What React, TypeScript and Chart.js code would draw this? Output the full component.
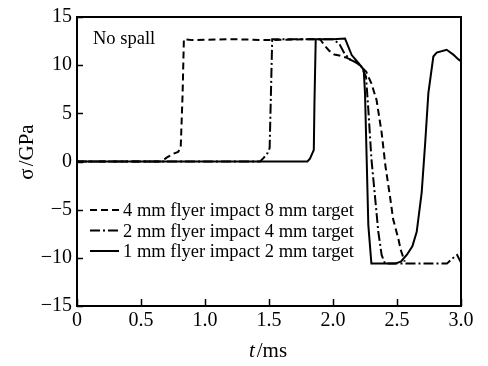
import React, { useEffect, useRef } from 'react';
import { Chart, registerables } from 'chart.js';
Chart.register(...registerables);

// ---- data ----
const SERIES_LABELS = [
  '4 mm flyer impact 8 mm target',
  '2 mm flyer impact 4 mm target',
  '1 mm flyer impact 2 mm target',
];

const tA = [0, 0.66, 0.70, 0.75, 0.79, 0.81, 0.825, 0.835, 0.9, 1.2, 1.5, 1.8, 1.9, 1.93, 1.97, 2.01, 2.05, 2.1, 2.15, 2.2, 2.26, 2.30, 2.34, 2.38, 2.41, 2.445, 2.47, 2.51, 2.53, 2.56];
const sA = [0, 0, 0.4, 0.8, 1.0, 1.4, 7, 12.7, 12.6, 12.7, 12.6, 12.7, 12.7, 12.1, 11.5, 11.1, 11.0, 10.8, 10.5, 10.1, 9.3, 8.1, 6.4, 3.0, -0.5, -3.6, -6.0, -8.0, -9.2, -10.4];

const tB = [0, 1.43, 1.46, 1.49, 1.505, 1.515, 1.525, 1.7, 2.0, 2.05, 2.09, 2.13, 2.18, 2.22, 2.258, 2.276, 2.30, 2.33, 2.354, 2.38, 2.406, 2.6, 2.89, 2.93, 2.97, 3.0];
const sB = [0, 0, 0.4, 0.9, 1.4, 7, 12.7, 12.7, 12.7, 12.2, 11.2, 10.6, 10.3, 9.9, 8.8, 5.4, 0.3, -3.9, -7.3, -9.7, -10.6, -10.6, -10.6, -10.1, -9.7, -10.5];

const tC = [0, 1.80, 1.82, 1.84, 1.85, 1.855, 1.865, 2.0, 2.094, 2.146, 2.2, 2.24, 2.25, 2.263, 2.276, 2.30, 2.484, 2.53, 2.576, 2.62, 2.654, 2.693, 2.72, 2.745, 2.784, 2.81, 2.888, 2.94, 2.98, 3.0];
const sC = [0, 0, 0.3, 0.9, 1.2, 6, 12.7, 12.7, 12.76, 11.05, 10.2, 9.5, 7.1, 0.3, -6.6, -10.6, -10.6, -10.4, -9.7, -8.8, -7.3, -3.2, 1.9, 7.1, 10.9, 11.3, 11.6, 11.1, 10.6, 10.4];

const X_TICKS = [0, 0.5, 1, 1.5, 2, 2.5, 3];
const Y_TICKS = [-15, -10, -5, 0, 5, 10, 15];
const ANNOTATION = 'No spall';

const SERIF = '"Liberation Serif", "Times New Roman", serif';
const DASHES = [[7, 4], [10, 3, 2, 3], []];

const toPts = (t: number[], s: number[]) => t.map((x, i) => ({ x, y: s[i] }));

const decorPlugin = {
  id: 'decor',
  afterDraw(chart: any) {
    const { ctx, chartArea: a, scales } = chart;
    ctx.save();
    ctx.strokeStyle = '#000';
    ctx.fillStyle = '#000';
    ctx.setLineDash([]);
    // frame
    ctx.lineWidth = 2;
    ctx.strokeRect(a.left, a.top, a.right - a.left, a.bottom - a.top);
    // inward ticks
    ctx.lineWidth = 1.5;
    ctx.beginPath();
    X_TICKS.forEach((v) => {
      const x = Math.round(scales.x.getPixelForValue(v)) + 0.5;
      ctx.moveTo(x, a.bottom);
      ctx.lineTo(x, a.bottom - 7);
    });
    Y_TICKS.forEach((v) => {
      const y = Math.round(scales.y.getPixelForValue(v)) + 0.5;
      ctx.moveTo(a.left, y);
      ctx.lineTo(a.left + 6, y);
    });
    ctx.stroke();

    // annotation
    ctx.font = `18.5px ${SERIF}`;
    ctx.textBaseline = 'alphabetic';
    ctx.textAlign = 'left';
    ctx.fillText(ANNOTATION, a.left + 16, a.top + 27);

    // legend
    const ds = chart.data.datasets;
    ds.forEach((d: any, i: number) => {
      const cy = a.top + 193 + i * 20.5;
      ctx.lineWidth = 2;
      ctx.setLineDash(d.borderDash || []);
      ctx.beginPath();
      ctx.moveTo(a.left + 13, cy);
      ctx.lineTo(a.left + 42, cy);
      ctx.stroke();
      ctx.setLineDash([]);
      ctx.fillText(d.label, a.left + 46, cy + 6);
    });

    // x title: t/ms
    ctx.font = `italic 21px ${SERIF}`;
    const wT = ctx.measureText('t').width;
    ctx.font = `21px ${SERIF}`;
    const wR = ctx.measureText('/ms').width;
    const total = wT + 2 + wR;
    const cx = (a.left + a.right) / 2 - 1;
    const x0 = cx - total / 2;
    ctx.font = `italic 21px ${SERIF}`;
    ctx.fillText('t', x0, 357);
    ctx.font = `21px ${SERIF}`;
    ctx.fillText('/ms', x0 + wT + 2, 357);

    // y title: σ/GPa rotated
    ctx.translate(33, 152);
    ctx.rotate(-Math.PI / 2);
    ctx.font = `21px ${SERIF}`;
    const wS = ctx.measureText('σ').width;
    const wG = ctx.measureText('/GPa').width;
    const tot2 = wS + 2 + wG;
    ctx.fillText('σ', -tot2 / 2, 0);
    ctx.fillText('/GPa', -tot2 / 2 + wS + 2, 0);
    ctx.restore();
  },
};

export default function App() {
  const ref = useRef<HTMLCanvasElement>(null);
  useEffect(() => {
    if (!ref.current) return;
    const series = [toPts(tA, sA), toPts(tB, sB), toPts(tC, sC)];
    const chart = new Chart(ref.current, {
      type: 'line',
      data: {
        datasets: series.map((pts, i) => ({
          label: SERIES_LABELS[i],
          data: pts,
          borderColor: '#000',
          borderWidth: 2,
          borderDash: DASHES[i],
          pointRadius: 0,
          fill: false,
          tension: 0,
        })),
      },
      options: {
        animation: false,
        responsive: true,
        maintainAspectRatio: false,
        layout: { padding: { top: 15, right: 27, left: 0, bottom: 0 } },
        plugins: { legend: { display: false }, tooltip: { enabled: false } },
        scales: {
          x: {
            type: 'linear',
            min: 0,
            max: 3,
            afterBuildTicks: (s: any) => { s.ticks = X_TICKS.map((v) => ({ value: v })); },
            afterFit: (s: any) => { s.height = 60; },
            grid: { display: false, drawTicks: false },
            border: { display: false },
            ticks: {
              padding: 3,
              color: '#000',
              font: { family: SERIF, size: 20 },
              maxRotation: 0,
              callback: (v: any) => (Number(v) === 0 ? '0' : Number(v).toFixed(1)),
            },
          },
          y: {
            type: 'linear',
            min: -15,
            max: 15,
            afterBuildTicks: (s: any) => { s.ticks = Y_TICKS.map((v) => ({ value: v })); },
            afterFit: (s: any) => { s.width = 77; },
            grid: { display: false, drawTicks: false },
            border: { display: false },
            ticks: {
              padding: 5,
              color: '#000',
              font: { family: SERIF, size: 20 },
              callback: (v: any) => String(v).replace('-', '\u2212'),
            },
          },
        },
      },
      plugins: [decorPlugin],
    });
    return () => chart.destroy();
  }, []);
  return (
    <div style={{ position: 'fixed', left: 0, top: 0, width: 488, height: 366, background: '#fff' }}>
      <canvas ref={ref} />
    </div>
  );
}
